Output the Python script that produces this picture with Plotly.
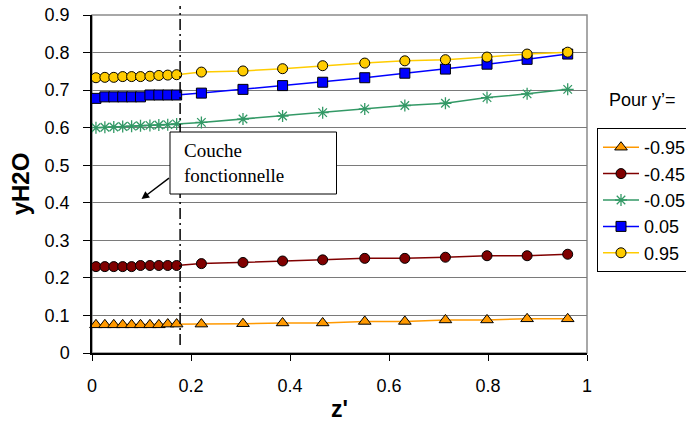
import plotly.graph_objects as go

z = [0.008, 0.026, 0.044, 0.062, 0.080, 0.098, 0.117, 0.135, 0.153, 0.171,
     0.221, 0.305, 0.385, 0.466, 0.551, 0.632, 0.714, 0.798, 0.879, 0.961]

y_m095 = [0.075, 0.075, 0.075, 0.075, 0.075, 0.075, 0.075, 0.075, 0.077, 0.077,
          0.077, 0.078, 0.080, 0.080, 0.084, 0.084, 0.088, 0.088, 0.091, 0.091]
y_m045 = [0.230, 0.230, 0.230, 0.230, 0.230, 0.233, 0.233, 0.233, 0.233, 0.233,
          0.238, 0.241, 0.245, 0.248, 0.252, 0.252, 0.255, 0.259, 0.259, 0.263]
y_m005 = [0.600, 0.601, 0.602, 0.603, 0.604, 0.605, 0.606, 0.607, 0.608, 0.610,
          0.614, 0.623, 0.631, 0.640, 0.650, 0.659, 0.665, 0.680, 0.690, 0.702]
y_p005 = [0.678, 0.682, 0.682, 0.682, 0.682, 0.682, 0.687, 0.687, 0.687, 0.687,
          0.692, 0.702, 0.712, 0.721, 0.733, 0.745, 0.756, 0.769, 0.782, 0.796]
y_p095 = [0.733, 0.734, 0.734, 0.736, 0.736, 0.736, 0.737, 0.739, 0.740, 0.741,
          0.748, 0.751, 0.757, 0.765, 0.772, 0.778, 0.781, 0.788, 0.796, 0.801]

series_names = ["-0.95", "-0.45", "-0.05", "0.05", "0.95"]
x_ticks = [0, 0.2, 0.4, 0.6, 0.8, 1]
x_tick_labels = ["0", "0.2", "0.4", "0.6", "0.8", "1"]
y_ticks = [0, 0.1, 0.2, 0.3, 0.4, 0.5, 0.6, 0.7, 0.8, 0.9]
y_tick_labels = ["0", "0.1", "0.2", "0.3", "0.4", "0.5", "0.6", "0.7", "0.8", "0.9"]
layer_boundary = 0.178

# plot area in pixels (for placing overlays)
L, R, T, B = 92, 587, 15, 353
PW, PH = R - L, B - T


def px(xp):
    return (xp - L) / PW


def py(yp):
    return (B - yp) / PH


fig = go.Figure()

styles = [
    dict(line=dict(color="#FF9900", width=1.5),
         marker=dict(symbol="triangle-up", size=11, color="#FF9900", line=dict(color="black", width=1))),
    dict(line=dict(color="#800000", width=1.5),
         marker=dict(symbol="circle", size=10, color="#800000", line=dict(color="black", width=1))),
    dict(line=dict(color="#339966", width=1.5),
         marker=dict(symbol="asterisk-open", size=10, color="#339966", line=dict(color="#339966", width=1.3))),
    dict(line=dict(color="#0000FF", width=1.5),
         marker=dict(symbol="square", size=10, color="#0000FF", line=dict(color="black", width=1))),
    dict(line=dict(color="#FFCC00", width=1.5),
         marker=dict(symbol="circle", size=10, color="#FFCC00", line=dict(color="black", width=1))),
]

for name, ys, st in zip(series_names, [y_m095, y_m045, y_m005, y_p005, y_p095], styles):
    fig.add_trace(go.Scatter(x=z, y=ys, mode="lines+markers", name=name,
                             line=st["line"], marker=st["marker"], cliponaxis=False))

# plot area border (gray top/right)
fig.add_shape(type="rect", xref="paper", yref="paper", x0=0, x1=1, y0=0, y1=1,
              line=dict(color="#8C8C8C", width=1.5), layer="below")

# dash-dot vertical line
fig.add_shape(type="line", xref="x", yref="paper", x0=layer_boundary, x1=layer_boundary,
              y0=py(345), y1=py(6), line=dict(color="black", width=1.5, dash="11px,4px,2px,4px"))

# annotation box + text
fig.add_shape(type="rect", xref="paper", yref="paper", x0=px(170), x1=px(336.5),
              y0=py(194), y1=py(132), line=dict(color="black", width=1), fillcolor="white")
fig.add_annotation(xref="paper", yref="paper", x=px(182), y=py(163),
                   xanchor="left", yanchor="middle", text="Couche<br>fonctionnelle",
                   showarrow=False, align="left",
                   font=dict(family="Liberation Serif", size=19, color="black"))
fig.add_annotation(xref="paper", yref="paper", axref="pixel", ayref="pixel",
                   x=px(141.5), y=py(199), ax=29, ay=-22,
                   text="", showarrow=True, arrowhead=2, arrowsize=1.1, arrowwidth=1.4,
                   arrowcolor="black")

fig.add_annotation(xref="paper", yref="paper", x=px(607), y=py(100),
                   xanchor="left", yanchor="middle", text="Pour y\u2019=", showarrow=False,
                   font=dict(family="Arial, Liberation Sans", size=18, color="black"))

fig.update_layout(
    width=686, height=428,
    margin=dict(l=L, r=686 - R, t=T, b=428 - B, autoexpand=False),
    paper_bgcolor="white", plot_bgcolor="white",
    font=dict(family="Arial, Liberation Sans", size=18, color="black"),
    legend=dict(x=px(597), y=py(128), xanchor="left", yanchor="top",
                bordercolor="black", borderwidth=1, bgcolor="white",
                font=dict(family="Arial, Liberation Sans", size=18, color="black"),
                itemwidth=36, tracegroupgap=0),
    xaxis=dict(range=[0, 1], tickvals=x_ticks, ticktext=x_tick_labels,
               showgrid=False, zeroline=False, showline=True, linecolor="black", linewidth=1.5,
               ticks="outside", ticklen=6, tickcolor="black", ticklabelstandoff=10,
               automargin=False,
               title=dict(text="<b>z'</b>", font=dict(size=23), standoff=6)),
    yaxis=dict(range=[0, 0.9], tickvals=y_ticks, ticktext=y_tick_labels,
               showgrid=True, gridcolor="#7A7A7A", gridwidth=1.3, zeroline=False,
               showline=True, linecolor="black", linewidth=1.5,
               ticks="outside", ticklen=7, tickcolor="black", ticklabelstandoff=10,
               automargin=False,
               title=dict(text="<b>yH2O</b>", font=dict(size=24), standoff=8)),
)

fig.write_html("out.html", config={"displayModeBar": False},
               post_script="document.body.style.margin='0';")
